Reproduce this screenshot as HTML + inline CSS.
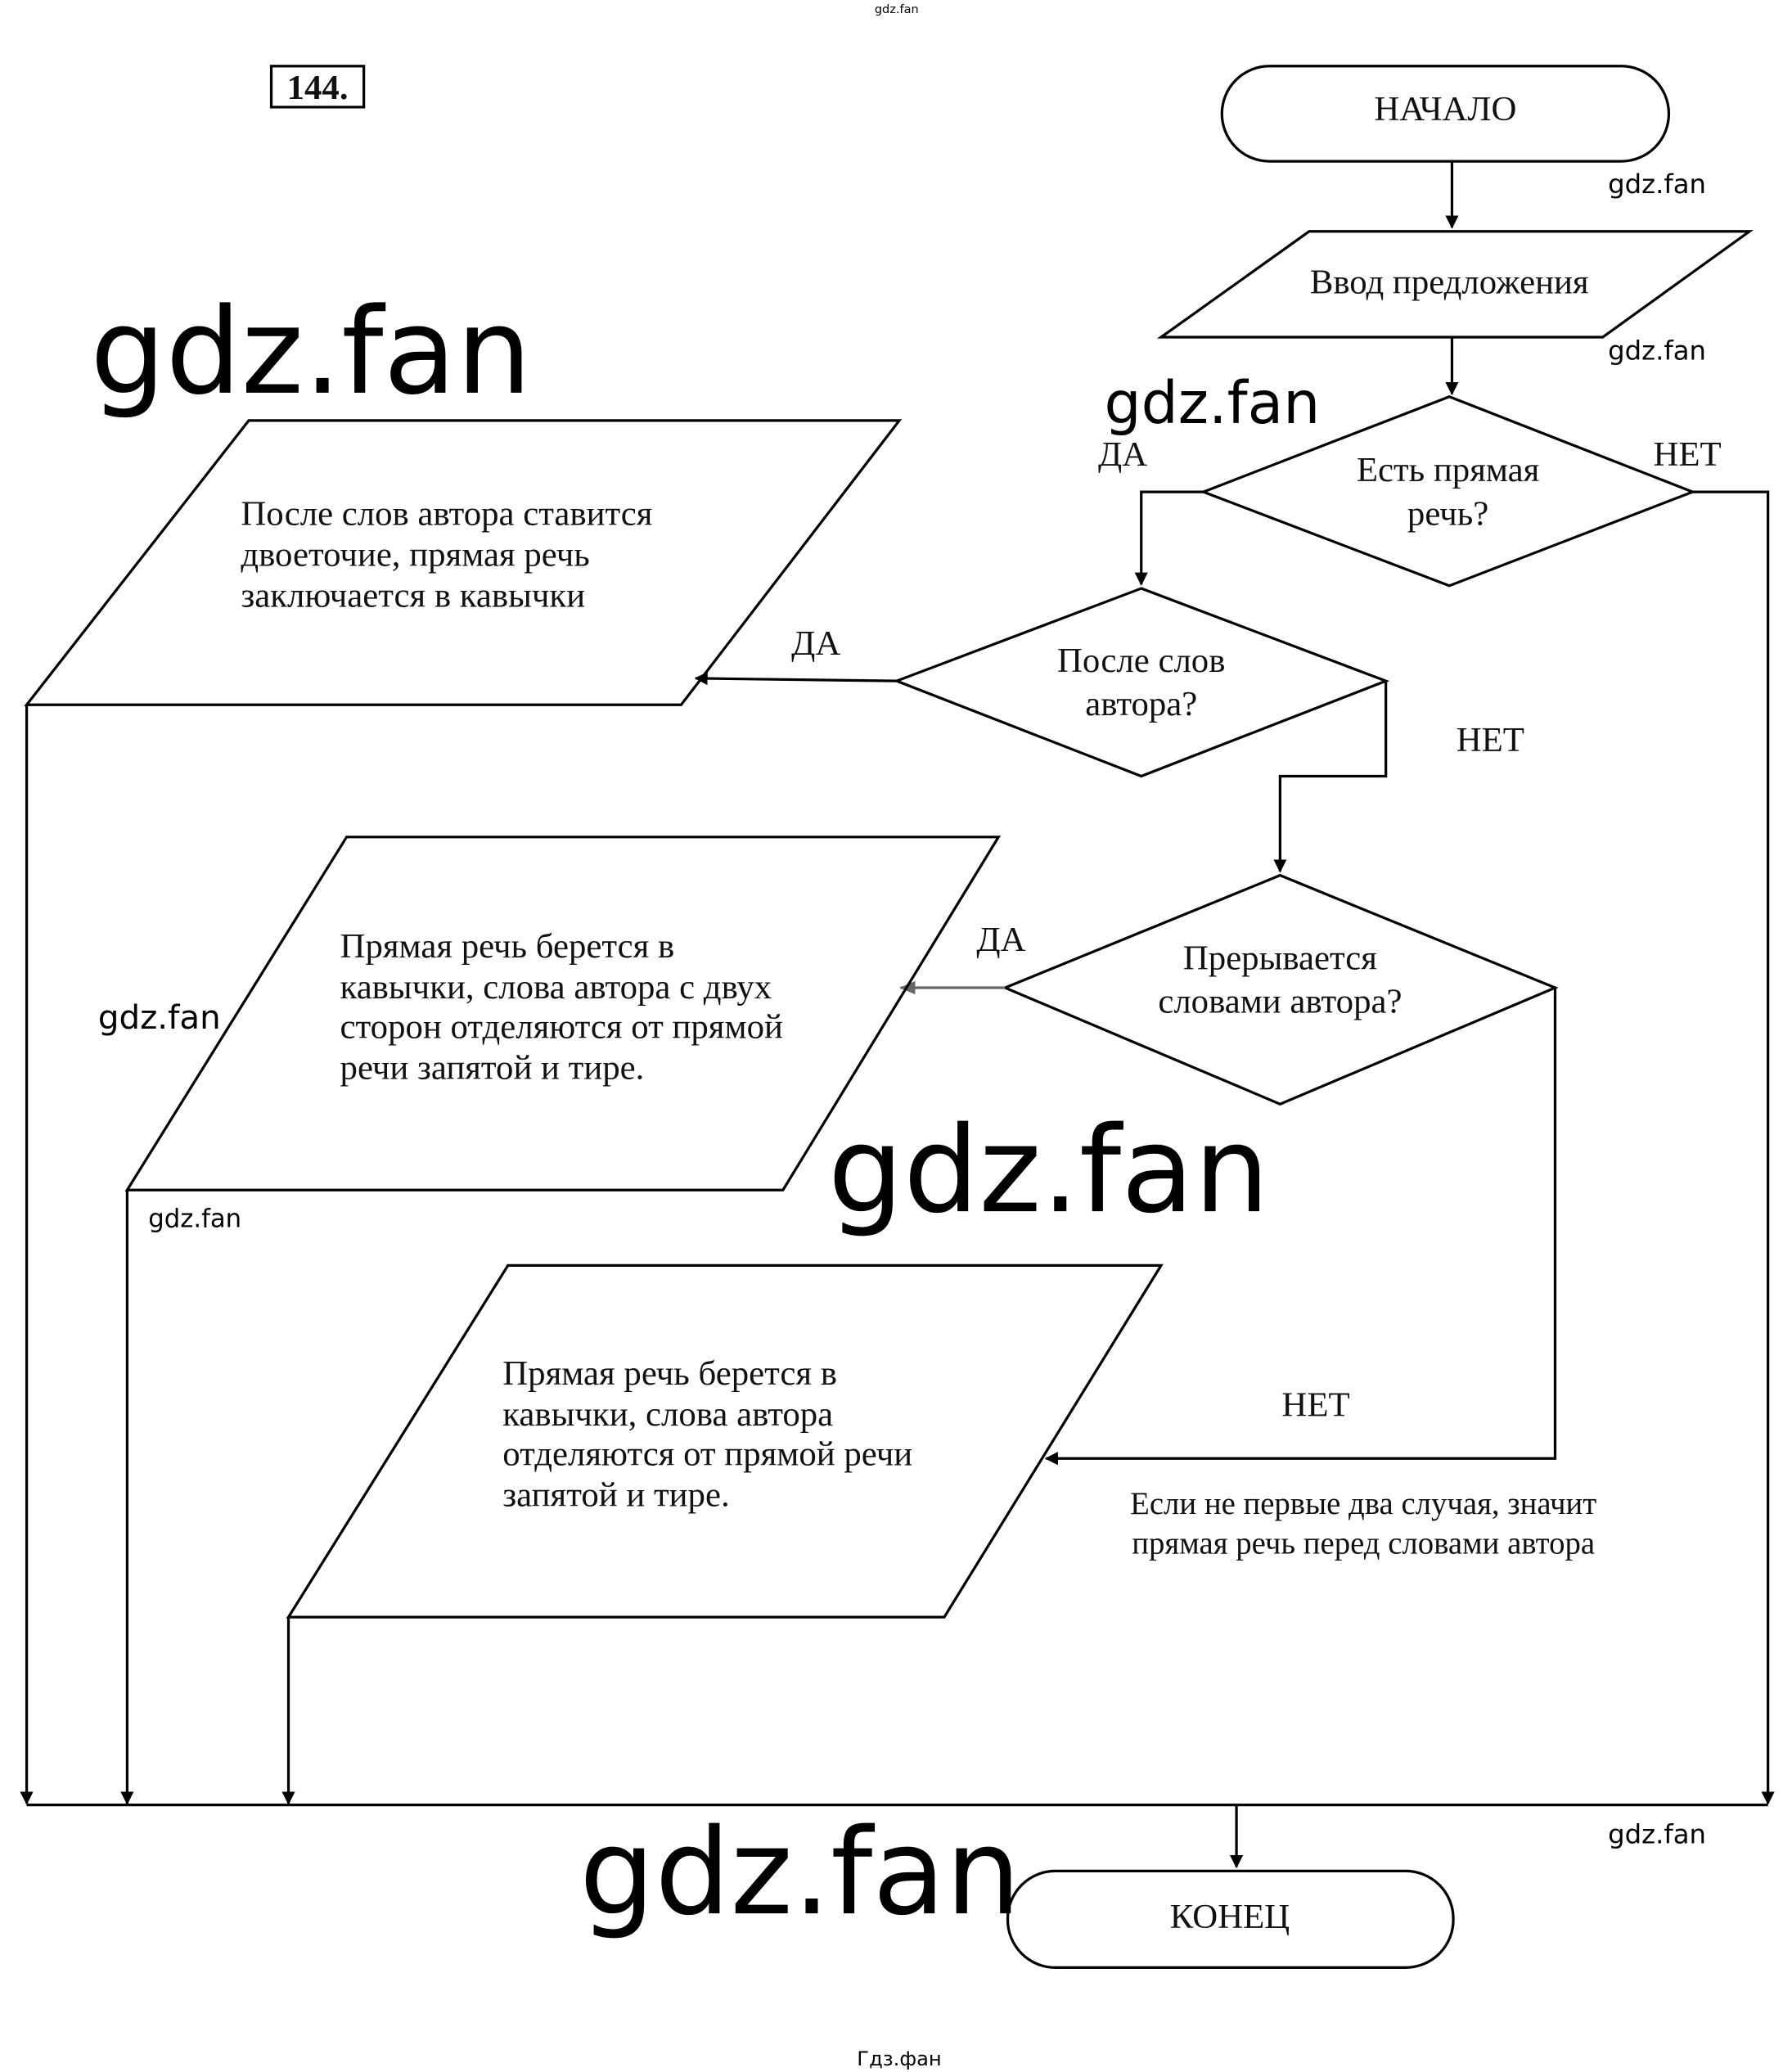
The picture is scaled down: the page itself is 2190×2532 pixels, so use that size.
<!DOCTYPE html>
<html><head><meta charset="utf-8"><style>
html,body{margin:0;padding:0;background:#fff;}
svg{display:block;}
.s{font-family:"Liberation Serif","Noto Serif CJK SC",serif;font-size:26.5px;fill:#111;}
.w{font-family:"DejaVu Sans","Liberation Sans",sans-serif;fill:#000;}
</style></head><body>
<svg width="2190" height="2532" viewBox="0 0 1355 1567" xmlns="http://www.w3.org/2000/svg">
<defs>
<marker id="a" markerWidth="10" markerHeight="10" refX="9" refY="5" orient="auto" markerUnits="userSpaceOnUse">
<path d="M0,0 L10,5 L0,10 z" fill="#000"/></marker>
<marker id="g" markerWidth="12" markerHeight="10" refX="11" refY="5" orient="auto" markerUnits="userSpaceOnUse">
<path d="M0,0 L12,5 L0,10 z" fill="#666"/></marker>
</defs>
<g fill="none" stroke="#000" stroke-width="2">
<rect x="205" y="50" width="70" height="31"/>
<rect x="924" y="50" width="338" height="72" rx="36"/>
<line x1="1098" y1="122" x2="1098" y2="172" marker-end="url(#a)"/>
<polygon points="990,175 1323,175 1212,255 878,255"/>
<line x1="1098" y1="255" x2="1098" y2="298" marker-end="url(#a)"/>
<polygon points="1096,300 1280,372 1096,443 910,372"/>
<polyline points="910,372 863,372 863,442" marker-end="url(#a)"/>
<polyline points="1280,372 1337,372 1337,1364" marker-end="url(#a)"/>
<polygon points="863,445 1048,515 863,587 678,515"/>
<line x1="678" y1="515" x2="526" y2="513" marker-end="url(#a)"/>
<polyline points="1048,515 1048,587 968,587 968,659" marker-end="url(#a)"/>
<polygon points="188,318 680,318 515,533 20,533"/>
<line x1="20" y1="533" x2="20" y2="1364" marker-end="url(#a)"/>
<polygon points="968,662 1176,747 968,835 760,747"/>
<line x1="760" y1="747" x2="681" y2="747" stroke="#666" marker-end="url(#g)"/>
<polygon points="262,633 755,633 592,900 96,900"/>
<line x1="96" y1="900" x2="96" y2="1364" marker-end="url(#a)"/>
<polyline points="1176,747 1176,1103 791,1103" marker-end="url(#a)"/>
<polygon points="384,957 878,957 714,1223 218,1223"/>
<line x1="218" y1="1223" x2="218" y2="1364" marker-end="url(#a)"/>
<line x1="20" y1="1365" x2="1337" y2="1365"/>
<line x1="935" y1="1365" x2="935" y2="1412" marker-end="url(#a)"/>
<rect x="762" y="1415" width="337" height="73" rx="36"/>
</g>
<text class="s" x="240" y="75" text-anchor="middle" font-weight="bold" font-size="26">144.</text>
<text class="s" x="1093" y="91" text-anchor="middle">НАЧАЛО</text>
<text class="s" x="1096" y="222" text-anchor="middle">Ввод предложения</text>
<text class="s" x="1095" y="364" text-anchor="middle">Есть прямая</text>
<text class="s" x="1095" y="397" text-anchor="middle">речь?</text>
<text class="s" x="849" y="352" text-anchor="middle" font-size="26">ДА</text>
<text class="s" x="1276" y="352" text-anchor="middle" font-size="26">НЕТ</text>
<text class="s" x="863" y="508" text-anchor="middle">После слов</text>
<text class="s" x="863" y="541" text-anchor="middle">автора?</text>
<text class="s" x="617" y="495" text-anchor="middle" font-size="26">ДА</text>
<text class="s" x="1127" y="568" text-anchor="middle" font-size="26">НЕТ</text>
<text class="s" x="182" y="397">После слов автора ставится</text>
<text class="s" x="182" y="428">двоеточие, прямая речь</text>
<text class="s" x="182" y="459">заключается в кавычки</text>
<text class="s" x="968" y="733" text-anchor="middle">Прерывается</text>
<text class="s" x="968" y="766" text-anchor="middle">словами автора?</text>
<text class="s" x="757" y="719" text-anchor="middle" font-size="26">ДА</text>
<text class="s" x="257" y="724">Прямая речь берется в</text>
<text class="s" x="257" y="755">кавычки, слова автора с двух</text>
<text class="s" x="257" y="785">сторон отделяются от прямой</text>
<text class="s" x="257" y="816">речи запятой и тире.</text>
<text class="s" x="995" y="1071" text-anchor="middle" font-size="26">НЕТ</text>
<text class="s" x="1031" y="1145" text-anchor="middle" style="font-size:24px">Если не первые два случая, значит</text>
<text class="s" x="1031" y="1175" text-anchor="middle" style="font-size:24px">прямая речь перед словами автора</text>
<text class="s" x="380" y="1047">Прямая речь берется в</text>
<text class="s" x="380" y="1078">кавычки, слова автора</text>
<text class="s" x="380" y="1108">отделяются от прямой речи</text>
<text class="s" x="380" y="1139">запятой и тире.</text>
<text class="s" x="930" y="1458" text-anchor="middle">КОНЕЦ</text>
<text class="w" x="68" y="297" font-size="90">gdz.fan</text>
<text class="w" x="835" y="320" font-size="44">gdz.fan</text>
<text class="w" x="626" y="916" font-size="90">gdz.fan</text>
<text class="w" x="438" y="1447" font-size="90">gdz.fan</text>
<text class="w" x="1216" y="146" font-size="20">gdz.fan</text>
<text class="w" x="1216" y="272" font-size="20">gdz.fan</text>
<text class="w" x="1216" y="1394" font-size="20">gdz.fan</text>
<text class="w" x="74" y="778" font-size="25">gdz.fan</text>
<text class="w" x="112" y="928" font-size="19">gdz.fan</text>
<text class="w" x="680" y="1562" font-size="15" text-anchor="middle">Гдз.фан</text>
<text class="w" x="678" y="10" font-size="9" text-anchor="middle" fill="#88a">gdz.fan</text>
</svg>
</body></html>
